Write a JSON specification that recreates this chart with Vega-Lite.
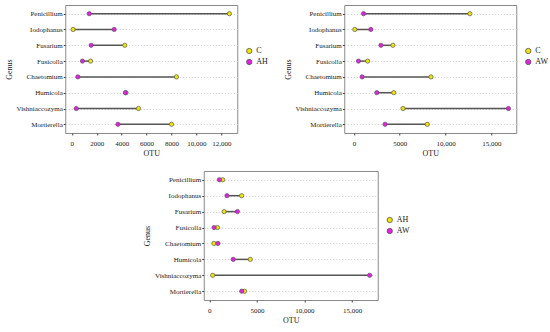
{
  "$schema": "https://vega.github.io/schema/vega-lite/v6.json",
  "padding": {"left": 4, "top": 4, "right": 0, "bottom": 0},
  "background": "white",
  "datasets": {
    "otu": [
      {"Genus": "Penicillium", "C": 12650, "AH": 1400, "AW": 1050},
      {"Genus": "Iodophanus", "C": 100, "AH": 3400, "AW": 1850},
      {"Genus": "Fusarium", "C": 4250, "AH": 1550, "AW": 2950},
      {"Genus": "Fusicolla", "C": 1500, "AH": 850, "AW": 500},
      {"Genus": "Chaetomium", "C": 8400, "AH": 480, "AW": 900},
      {"Genus": "Humicola", "C": 4350, "AH": 4300, "AW": 2500},
      {"Genus": "Vishniaccozyma", "C": 5350, "AH": 350, "AW": 16850},
      {"Genus": "Mortierella", "C": 8000, "AH": 3700, "AW": 3400}
    ]
  },
  "config": {
    "font": "Liberation Serif",
    "view": {"stroke": "#8a8a8a", "strokeWidth": 1},
    "axis": {
      "labelFont": "Liberation Serif",
      "titleFont": "Liberation Serif",
      "labelFontSize": 7,
      "titleFontSize": 8,
      "titleFontWeight": "normal",
      "labelColor": "#222",
      "titleColor": "#222",
      "tickColor": "#444",
      "tickSize": 2,
      "domain": false,
      "labelOverlap": false
    },
    "axisY": {"grid": true, "gridDash": [1, 2], "gridColor": "#c8c8c8", "titlePadding": 3, "labelPadding": 1},
    "axisX": {"grid": false, "titlePadding": 3, "labelPadding": 4},
    "legend": {"labelFont": "Liberation Serif", "labelFontSize": 8, "labelColor": "#222", "symbolSize": 28, "symbolStrokeColor": "#555", "symbolStrokeWidth": 0.8, "rowPadding": 1, "labelOffset": 3}
  },
  "vconcat": [
    {
      "hconcat": [
        {
          "width": 172, "height": 128,
          "data": {"name": "otu"},
          "layer": [
            {
              "mark": {"type": "rule", "color": "#555", "strokeWidth": 1.5},
              "encoding": {
                "y": {"field": "Genus", "type": "nominal", "scale": {"type": "point", "padding": 0.55, "domain": ["Penicillium","Iodophanus","Fusarium","Fusicolla","Chaetomium","Humicola","Vishniaccozyma","Mortierella"]}, "title": "Genus"},
                "x": {"field": "C", "type": "quantitative", "scale": {"domain": [-530, 13280], "nice": false, "zero": false}, "axis": {"values": [0,2000,4000,6000,8000,10000,12000], "labelOverlap": false, "labelSeparation": 0, "labelExpr": "datum.value >= 10000 ? format(datum.value, ',') : format(datum.value, 'd')"}, "title": "OTU"},
                "x2": {"field": "AH"}
              }
            },
            {
              "transform": [{"fold": ["C", "AH"], "as": ["Group", "OTU"]}],
              "mark": {"type": "point", "filled": true, "shape": "circle", "size": 18, "stroke": "#555", "strokeWidth": 0.7, "opacity": 1},
              "encoding": {
                "y": {"field": "Genus", "type": "nominal", "title": "Genus"},
                "x": {"field": "OTU", "type": "quantitative", "axis": {"values": [0,2000,4000,6000,8000,10000,12000], "labelOverlap": false, "labelSeparation": 0, "labelExpr": "datum.value >= 10000 ? format(datum.value, ',') : format(datum.value, 'd')"}, "title": "OTU"},
                "color": {"field": "Group", "type": "nominal", "scale": {"domain": ["C", "AH"], "range": ["#f2e600", "#e81ee8"]}, "legend": {"title": null, "orient": "none", "legendX": 180, "legendY": 42}}
              }
            }
          ]
        },
        {
          "width": 172, "height": 128,
          "data": {"name": "otu"},
          "layer": [
            {
              "mark": {"type": "rule", "color": "#555", "strokeWidth": 1.5},
              "encoding": {
                "y": {"field": "Genus", "type": "nominal", "scale": {"type": "point", "padding": 0.55, "domain": ["Penicillium","Iodophanus","Fusarium","Fusicolla","Chaetomium","Humicola","Vishniaccozyma","Mortierella"]}, "title": "Genus"},
                "x": {"field": "C", "type": "quantitative", "scale": {"domain": [-1050, 17700], "nice": false, "zero": false}, "axis": {"values": [0,5000,10000,15000], "labelOverlap": false, "labelExpr": "datum.value >= 10000 ? format(datum.value, ',') : format(datum.value, 'd')"}, "title": "OTU"},
                "x2": {"field": "AW"}
              }
            },
            {
              "transform": [{"fold": ["C", "AW"], "as": ["Group", "OTU"]}],
              "mark": {"type": "point", "filled": true, "shape": "circle", "size": 18, "stroke": "#555", "strokeWidth": 0.7, "opacity": 1},
              "encoding": {
                "y": {"field": "Genus", "type": "nominal", "title": "Genus"},
                "x": {"field": "OTU", "type": "quantitative", "title": "OTU"},
                "color": {"field": "Group", "type": "nominal", "scale": {"domain": ["C", "AW"], "range": ["#f2e600", "#e81ee8"]}, "legend": {"title": null, "orient": "none", "legendX": 180, "legendY": 42}}
              }
            }
          ]
        }
      ],
      "spacing": 14,
      "resolve": {"scale": {"x": "independent", "y": "independent", "color": "independent"}, "legend": {"color": "independent"}}
    },
    {
      "width": 174, "height": 129,
      "data": {"name": "otu"},
      "layer": [
        {
          "mark": {"type": "rule", "color": "#555", "strokeWidth": 1.5},
          "encoding": {
            "y": {"field": "Genus", "type": "nominal", "scale": {"type": "point", "padding": 0.55, "domain": ["Penicillium","Iodophanus","Fusarium","Fusicolla","Chaetomium","Humicola","Vishniaccozyma","Mortierella"]}, "title": "Genus"},
            "x": {"field": "AH", "type": "quantitative", "scale": {"domain": [-590, 17700], "nice": false, "zero": false}, "axis": {"values": [0,5000,10000,15000], "labelOverlap": false, "labelExpr": "datum.value >= 10000 ? format(datum.value, ',') : format(datum.value, 'd')"}, "title": "OTU"},
            "x2": {"field": "AW"}
          }
        },
        {
          "transform": [{"fold": ["AH", "AW"], "as": ["Group", "OTU"]}],
          "mark": {"type": "point", "filled": true, "shape": "circle", "size": 18, "stroke": "#555", "strokeWidth": 0.7, "opacity": 1},
          "encoding": {
            "y": {"field": "Genus", "type": "nominal", "title": "Genus"},
            "x": {"field": "OTU", "type": "quantitative", "title": "OTU"},
            "color": {"field": "Group", "type": "nominal", "scale": {"domain": ["AH", "AW"], "range": ["#f2e600", "#e81ee8"]}, "legend": {"title": null, "orient": "none", "legendX": 182, "legendY": 45}}
          }
        }
      ]
    }
  ],
  "spacing": 12,
  "center": true,
  "resolve": {"scale": {"x": "independent", "y": "independent", "color": "independent"}, "legend": {"color": "independent"}}
}
